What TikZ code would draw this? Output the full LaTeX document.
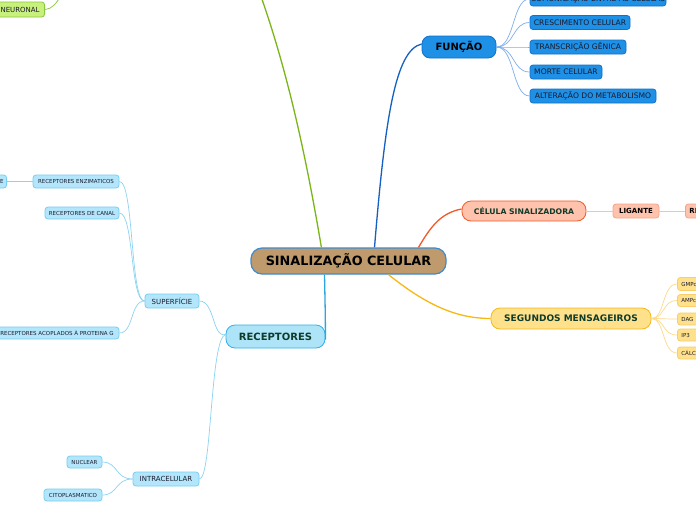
\documentclass[tikz,border=0pt]{standalone}
\usepackage{fontspec}
\setmainfont{DejaVu Sans}
\begin{document}
\begin{tikzpicture}[x=1pt,y=-1pt,
  base/.style={draw,rounded corners=3pt,inner sep=0pt,line width=0.8pt,align=center},
  mainbox/.style={base,fill=cTan,draw=cCentralB,line width=1.2pt,rounded corners=11pt,font=\bfseries\fontsize{12.8}{13}\selectfont},
  funbox/.style={base,fill=cFun,draw=cFunB,rounded corners=8pt,font=\bfseries\fontsize{10}{11}\selectfont},
  funchild/.style={base,fill=cFun,draw=cFunB,font=\fontsize{7.6}{8}\selectfont,text=cDarkTxt},
  celbox/.style={base,fill=cSalm,draw=cOrange,rounded corners=9pt,font=\bfseries\fontsize{7.7}{8}\selectfont,text=cGreenTxt},
  salchild/.style={base,fill=cSalm,draw=cSalmB,font=\bfseries\fontsize{7}{8}\selectfont},
  segbox/.style={base,fill=cYel,draw=cYelB,rounded corners=9pt,font=\bfseries\fontsize{9}{10}\selectfont,text=cGreenTxt},
  yelchild/.style={base,fill=cYel,draw=cYelC,font=\fontsize{5.5}{6}\selectfont,text=cDarkTxt},
  recbox/.style={base,fill=cCyan,draw=cCyanB,rounded corners=9pt,font=\bfseries\fontsize{10}{11}\selectfont,text=cGreenTxt},
  cychild/.style={base,fill=cCyanL,draw=cCyanC,font=\fontsize{7}{8}\selectfont,text=cDarkTxt},
  cysmall/.style={base,fill=cCyanL,draw=cCyanC,font=\fontsize{5.5}{6}\selectfont,text=cDarkTxt},
  grbox/.style={base,fill=cGreenL,draw=cGreenB,font=\fontsize{7}{8}\selectfont,text=cDarkTxt},
  link/.style={line width=0.7pt}
]
\definecolor{cTan}{HTML}{BE9A6C}
\definecolor{cCentralB}{HTML}{3D8BD0}
\definecolor{cFun}{HTML}{1E90E6}
\definecolor{cFunB}{HTML}{1470C8}
\definecolor{cFunLine}{HTML}{1560C0}
\definecolor{cFunLink}{HTML}{7EAEEE}
\definecolor{cDarkTxt}{HTML}{1A1A2E}
\definecolor{cGreenTxt}{HTML}{0E3B2A}
\definecolor{cSalm}{HTML}{FFC2AC}
\definecolor{cSalmB}{HTML}{F4A488}
\definecolor{cOrange}{HTML}{F05A28}
\definecolor{cSalmLink}{HTML}{F8C0A8}
\definecolor{cYel}{HTML}{FFE18C}
\definecolor{cYelB}{HTML}{F6B913}
\definecolor{cYelC}{HTML}{F8CD6A}
\definecolor{cYelLink}{HTML}{FDDA8A}
\definecolor{cCyan}{HTML}{AEE4F8}
\definecolor{cCyanB}{HTML}{33B0E8}
\definecolor{cCyanL}{HTML}{B4E6FB}
\definecolor{cCyanC}{HTML}{78CEF0}
\definecolor{cCyanLine}{HTML}{29A8E0}
\definecolor{cCyanLink}{HTML}{8AD4F2}
\definecolor{cGreenL}{HTML}{C8F07C}
\definecolor{cGreenB}{HTML}{8CC63F}
\definecolor{cGreenLine}{HTML}{7CB518}
\useasboundingbox (0,0) rectangle (696,520);
\clip (0,0) rectangle (696,520);
\fill[white] (0,0) rectangle (696,520);

% nodes
\node[mainbox,minimum width=195pt,minimum height=26pt] (c) at (348.5,261) {SINALIZAÇÃO CELULAR};
\node[funbox,minimum width=74pt,minimum height=22pt] (f) at (459,47) {FUNÇÃO};
\node[funchild,minimum width=136pt,minimum height=14pt] (f1) at (598,-1) {COMUNICAÇÃO ENTRE AS CÉLULAS};
\node[funchild,minimum width=100pt,minimum height=14pt] (f2) at (580,22.5) {CRESCIMENTO CELULAR};
\node[funchild,minimum width=96pt,minimum height=14pt] (f3) at (578,47) {TRANSCRIÇÃO GÊNICA};
\node[funchild,minimum width=72pt,minimum height=14pt] (f4) at (566,72) {MORTE CELULAR};
\node[funchild,minimum width=126pt,minimum height=14pt] (f5) at (593,96) {ALTERAÇÃO DO METABOLISMO};

\node[grbox,minimum width=56pt,minimum height=15pt,anchor=east,text width=52pt,align=right] (n) at (45,9.5) {NEURONAL\hspace*{3pt}};

\node[celbox,minimum width=124pt,minimum height=20pt] (s) at (524,211) {CÉLULA SINALIZADORA};
\node[salchild,minimum width=46pt,minimum height=14pt] (l) at (636,211) {LIGANTE};
\node[salchild,minimum width=60pt,minimum height=14pt,anchor=west,text width=56pt,align=left] (r) at (685,211) {\hspace*{2pt}RECEPTOR};

\node[segbox,minimum width=160pt,minimum height=21pt] (m) at (571,318.5) {SEGUNDOS MENSAGEIROS};
\node[yelchild,minimum width=30pt,minimum height=13pt,anchor=west,text width=26pt,align=left] (m1) at (677,284) {\hspace*{2pt}GMPc};
\node[yelchild,minimum width=30pt,minimum height=12pt,anchor=west,text width=26pt,align=left] (m2) at (677,300.5) {\hspace*{2pt}AMPc};
\node[yelchild,minimum width=30pt,minimum height=12pt,anchor=west,text width=26pt,align=left] (m3) at (677,319) {\hspace*{2pt}DAG};
\node[yelchild,minimum width=30pt,minimum height=12pt,anchor=west,text width=26pt,align=left] (m4) at (677,335) {\hspace*{2pt}IP3};
\node[yelchild,minimum width=30pt,minimum height=12pt,anchor=west,text width=26pt,align=left] (m5) at (677,353) {\hspace*{2pt}CÁLCIO};

\node[recbox,minimum width=99pt,minimum height=23pt] (rc) at (275.5,336.5) {RECEPTORES};
\node[cychild,minimum width=54pt,minimum height=14pt] (sf) at (172,301) {SUPERFÍCIE};
\node[cychild,minimum width=66pt,minimum height=14pt] (ic) at (166,479) {INTRACELULAR};
\node[cysmall,minimum width=86pt,minimum height=13pt] (e1) at (76,181.5) {RECEPTORES ENZIMATICOS};
\node[cysmall,minimum width=74pt,minimum height=12pt] (e2) at (82,213) {RECEPTORES DE CANAL};
\node[cysmall,minimum width=124pt,minimum height=12pt] (e3) at (57,333) {RECEPTORES ACOPLADOS À PROTEINA G};
\node[cysmall,minimum width=60pt,minimum height=13pt,anchor=east,text width=56pt,align=right] (e0) at (7,181.5) {TIROSINA QUINASE\hspace*{1pt}};
\node[cysmall,minimum width=35pt,minimum height=12pt] (i1) at (84.5,462) {NUCLEAR};
\node[cysmall,minimum width=58pt,minimum height=12pt] (i2) at (73,495) {CITOPLASMATICO};

% main branches
\draw[cGreenLine,line width=1.3pt] (c.north west) ++(71,0) .. controls (305,150) and (285,60) .. (255,-20);
\draw[cFunLine,line width=1.3pt] ([xshift=26pt]c.north) .. controls (385,120) and (395,50) .. ([yshift=3pt]f.west);
\draw[cOrange,line width=1.3pt] ([xshift=70pt]c.north) .. controls (430,228) and (440,213) .. ([yshift=2pt]s.west);
\draw[cYelB,line width=1.3pt] ([xshift=40pt]c.south) .. controls (430,308) and (460,318.5) .. (m.west);
\draw[cCyanLine,line width=1.3pt] ([xshift=-24pt]c.south) .. controls (325,300) and (325.5,320) .. ([yshift=-3pt]rc.east);

% function links
\foreach \t in {f1,f2,f3,f4,f5}
  \draw[cFunLink,link] (f.east) .. controls (515,47) and (512,0|-\t.west) .. (\t.west);
% neuronal
\draw[cGreenB,link] (n.east) .. controls (52,9) and (56,4) .. (62,-6);
% celula
\draw[cSalmLink,line width=1pt] (s.east) -- (l.west);
\draw[cSalmLink,line width=1pt] (l.east) -- (r.west);
% segundos
\foreach \t in {m1,m2,m3,m4,m5}
  \draw[cYelLink,link] (m.east) .. controls (665,318.5) and (662,0|-\t.west) .. (\t.west);
% receptores
\draw[cCyanLink,link] ([yshift=2pt]rc.west) .. controls (212,338) and (215,301) .. (sf.east);
\draw[cCyanLink,link] ([yshift=2pt]rc.west) .. controls (210,338) and (212,479) .. (ic.east);
\draw[cCyanLink,link] (sf.west) .. controls (130,301) and (134,181.5) .. (e1.east);
\draw[cCyanLink,link] (sf.west) .. controls (130,301) and (134,213) .. (e2.east);
\draw[cCyanLink,link] (sf.west) .. controls (130,301) and (134,333) .. (e3.east);
\draw[cCyanLink,link] (e1.west) -- (e0.east);
\draw[cCyanLink,link] (ic.west) .. controls (115,479) and (118,462) .. (i1.east);
\draw[cCyanLink,link] (ic.west) .. controls (115,479) and (118,495) .. (i2.east);
\end{tikzpicture}
\end{document}
